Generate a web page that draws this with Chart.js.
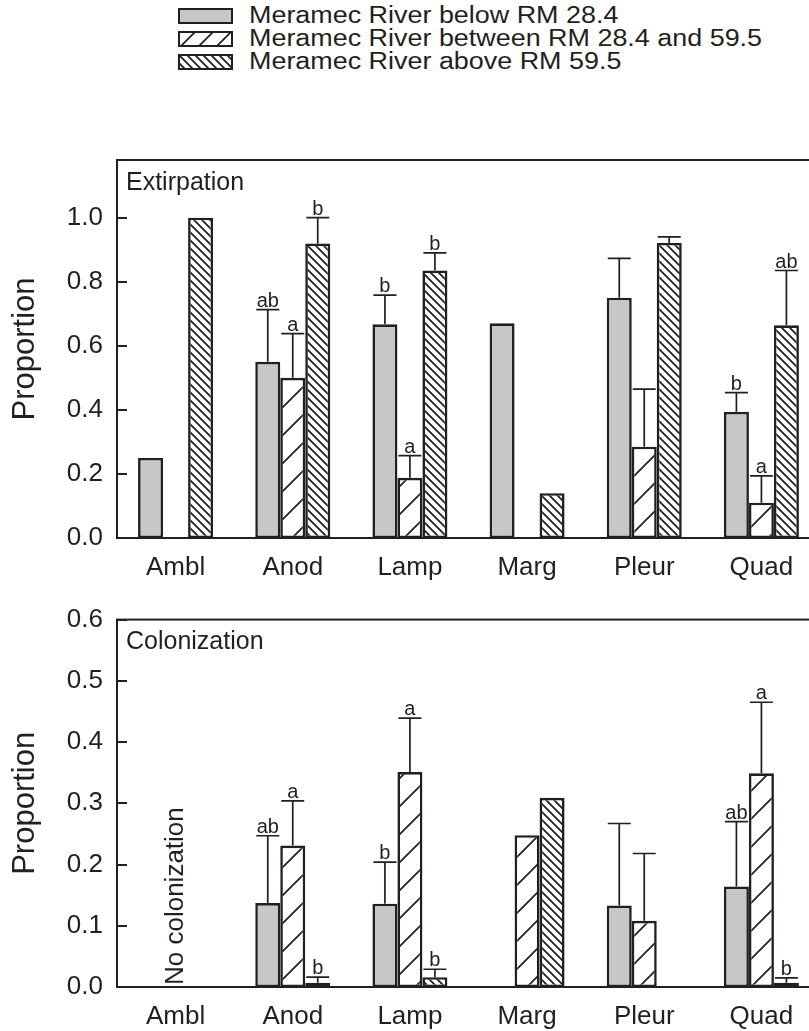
<!DOCTYPE html>
<html>
<head>
<meta charset="utf-8">
<script src="https://cdn.jsdelivr.net/npm/chart.js@4.4.1/dist/chart.umd.min.js"></script>
<style>
    body { margin: 0; background: #fff; width: 809px; height: 1031px; overflow: hidden; position: relative; font-family: 'Liberation Sans', Arial, sans-serif; color: #231f20; }
    #legend { position: absolute; left: 178px; top: 4px; }
    .row { display: flex; align-items: center; height: 23px; }
    .row canvas { margin-right: 16px; }
    .row span { font-size: 23px; line-height: 23px; white-space: nowrap; display: inline-block; transform: scaleX(1.17); transform-origin: left center; }
    .chart-box { position: absolute; left: 0; }
</style>
</head>
<body>
<div id="legend"></div>
<div class="chart-box" style="top:130px"><canvas id="extirpation" width="830" height="450"></canvas></div>
<div class="chart-box" style="top:590px"><canvas id="colonization" width="830" height="441"></canvas></div>
<script>
const categories = ['Ambl', 'Anod', 'Lamp', 'Marg', 'Pleur', 'Quad'];
const seriesNames = [
    'Meramec River below RM 28.4',
    'Meramec River between RM 28.4 and 59.5',
    'Meramec River above RM 59.5'
];

// extirpation: bar value, top of error bar, significance letter
const extBelow = [0.25, 0.55, 0.667, 0.67, 0.75, 0.394];
const extBelowErr = [null, 0.713, 0.758, null, 0.873, 0.454];
const extBelowSig = ['', 'ab', 'b', '', '', 'b'];
const extBetween = [null, 0.50, 0.188, null, 0.285, 0.11];
const extBetweenErr = [null, 0.638, 0.257, null, 0.465, 0.194];
const extBetweenSig = ['', 'a', 'a', '', '', 'a'];
const extAbove = [1.0, 0.919, 0.835, 0.14, 0.921, 0.664];
const extAboveErr = [null, 1.0, 0.89, null, 0.94, 0.835];
const extAboveSig = ['', 'b', 'b', '', '', 'ab'];

// colonization
const colBelow = [null, 0.137, 0.136, null, 0.133, 0.164];
const colBelowErr = [null, 0.247, 0.204, null, 0.267, 0.27];
const colBelowSig = ['', 'ab', 'b', '', '', 'ab'];
const colBetween = [null, 0.231, 0.351, 0.248, 0.108, 0.349];
const colBetweenErr = [null, 0.304, 0.439, null, 0.218, 0.465];
const colBetweenSig = ['', 'a', 'a', '', '', 'a'];
const colAbove = [null, 0.007, 0.016, 0.309, null, 0.007];
const colAboveErr = [null, 0.016, 0.029, null, null, 0.015];
const colAboveSig = ['', 'b', 'b', '', '', 'b'];

const INK = '#231f20';
const GRAY = '#c6c7c9';
const FONT = "'Liberation Sans', Arial, sans-serif";

function hatch (size, dir, lw) {
    const c = document.createElement('canvas');
    c.width = c.height = size;
    const g = c.getContext('2d');
    g.fillStyle = '#fff';
    g.fillRect(0, 0, size, size);
    g.strokeStyle = INK;
    g.lineWidth = lw;
    g.beginPath();
    if (dir === '/') {
        g.moveTo(0, size); g.lineTo(size, 0);
        g.moveTo(-lw, lw); g.lineTo(lw, -lw);
        g.moveTo(size - lw, size + lw); g.lineTo(size + lw, size - lw);
    } else {
        g.moveTo(0, 0); g.lineTo(size, size);
        g.moveTo(size - lw, -lw); g.lineTo(size + lw, lw);
        g.moveTo(-lw, size - lw); g.lineTo(lw, size + lw);
    }
    g.stroke();
    return g.createPattern(c, 'repeat');
}

const fills = [GRAY, hatch(28, '/', 1.7), hatch(8, '\\', 1.8)];
const legendFills = [GRAY, hatch(18, '/', 1.7), hatch(8, '\\', 1.8)];

// legend
const legend = document.getElementById('legend');
seriesNames.forEach((name, i) => {
    const row = document.createElement('div');
    row.className = 'row';
    const sw = document.createElement('canvas');
    sw.width = 55; sw.height = 16;
    const g = sw.getContext('2d');
    g.fillStyle = legendFills[i];
    g.fillRect(1, 1, 53, 14);
    g.strokeStyle = INK;
    g.lineWidth = 2;
    g.strokeRect(1, 1, 53, 14);
    const label = document.createElement('span');
    label.textContent = name;
    row.appendChild(sw);
    row.appendChild(label);
    legend.appendChild(row);
});

const figurePlugin = {
    id: 'figure',
    afterDatasetsDraw (chart, args, opts) {
        const ctx = chart.ctx;
        const y = chart.scales.y;
        ctx.save();
        ctx.strokeStyle = INK;
        ctx.fillStyle = INK;
        ctx.lineWidth = 1.7;
        ctx.font = `20px ${FONT}`;
        ctx.textAlign = 'center';
        ctx.textBaseline = 'alphabetic';
        chart.data.datasets.forEach((ds, di) => {
            const meta = chart.getDatasetMeta(di);
            ds.data.forEach((v, i) => {
                if (v === null) return;
                const bar = meta.data[i];
                const half = bar.width / 2 - 1;
                let topY = bar.y;
                if (ds.errTop[i] !== null) {
                    topY = y.getPixelForValue(ds.errTop[i]);
                    ctx.beginPath();
                    ctx.moveTo(bar.x, bar.y);
                    ctx.lineTo(bar.x, topY);
                    ctx.moveTo(bar.x - half, topY);
                    ctx.lineTo(bar.x + half, topY);
                    ctx.stroke();
                }
                if (ds.sig[i]) {
                    ctx.fillText(ds.sig[i], bar.x, topY - 3);
                }
            });
        });
        ctx.restore();
    },
    afterDraw (chart, args, opts) {
        const ctx = chart.ctx;
        const area = chart.chartArea;
        const y = chart.scales.y;
        const x = chart.scales.x;
        ctx.save();
        ctx.strokeStyle = INK;
        ctx.lineWidth = 2;
        ctx.strokeRect(area.left, area.top, area.right - area.left, area.bottom - area.top);
        // inward y ticks
        ctx.beginPath();
        y.ticks.forEach(t => {
            const py = Math.round(y.getPixelForValue(t.value));
            ctx.moveTo(area.left, py);
            ctx.lineTo(area.left + 10, py);
        });
        ctx.stroke();
        ctx.fillStyle = INK;
        ctx.font = `25px ${FONT}`;
        ctx.textAlign = 'left';
        ctx.textBaseline = 'middle';
        ctx.fillText(opts.label, area.left + 9, area.top + 23);
        if (opts.note) {
            ctx.translate(x.getPixelForValue(0), area.bottom - 2);
            ctx.rotate(-Math.PI / 2);
            ctx.font = `26px ${FONT}`;
            ctx.fillText(opts.note, 0, 0);
        }
        ctx.restore();
    }
};

function drawPanel (id, label, note, yMax, tickMax, step, topPad, xHeight, values, errs, sigs) {
    new Chart(document.getElementById(id), {
        type: 'bar',
        data: {
            labels: categories,
            datasets: seriesNames.map((name, i) => ({
                label: name,
                data: values[i],
                errTop: errs[i],
                sig: sigs[i],
                backgroundColor: fills[i],
                borderColor: INK,
                borderWidth: 2.6,
                borderSkipped: false,
                barPercentage: 1.0,
                categoryPercentage: 0.64
            }))
        },
        options: {
            responsive: false,
            animation: false,
            layout: { padding: { top: topPad, right: 10, left: 0, bottom: 0 } },
            plugins: {
                legend: { display: false },
                tooltip: { enabled: false },
                figure: { label: label, note: note }
            },
            scales: {
                x: {
                    grid: { display: false, drawTicks: false },
                    border: { display: false },
                    ticks: { color: INK, font: { size: 26, family: FONT }, padding: 14, maxRotation: 0 },
                    afterFit: s => { s.height = xHeight; }
                },
                y: {
                    min: 0,
                    max: yMax,
                    grid: { display: false, drawTicks: false },
                    border: { display: false },
                    ticks: {
                        stepSize: step,
                        color: INK,
                        font: { size: 26, family: FONT },
                        padding: 14,
                        callback: v => v.toFixed(1)
                    },
                    title: {
                        display: true,
                        text: 'Proportion',
                        color: INK,
                        font: { size: 31, family: FONT },
                        padding: { top: 7, bottom: 0 }
                    },
                    afterBuildTicks: s => { s.ticks = s.ticks.filter(t => t.value <= tickMax + 1e-9); },
                    afterFit: s => { s.width = 117; }
                }
            }
        },
        plugins: [figurePlugin]
    });
}

drawPanel('extirpation', 'Extirpation', null, 1.18, 1.0, 0.2, 30, 42,
    [extBelow, extBetween, extAbove],
    [extBelowErr, extBetweenErr, extAboveErr],
    [extBelowSig, extBetweenSig, extAboveSig]);

drawPanel('colonization', 'Colonization', 'No colonization', 0.6, 0.6, 0.1, 20, 44,
    [colBelow, colBetween, colAbove],
    [colBelowErr, colBetweenErr, colAboveErr],
    [colBelowSig, colBetweenSig, colAboveSig]);
</script>
</body>
</html>
